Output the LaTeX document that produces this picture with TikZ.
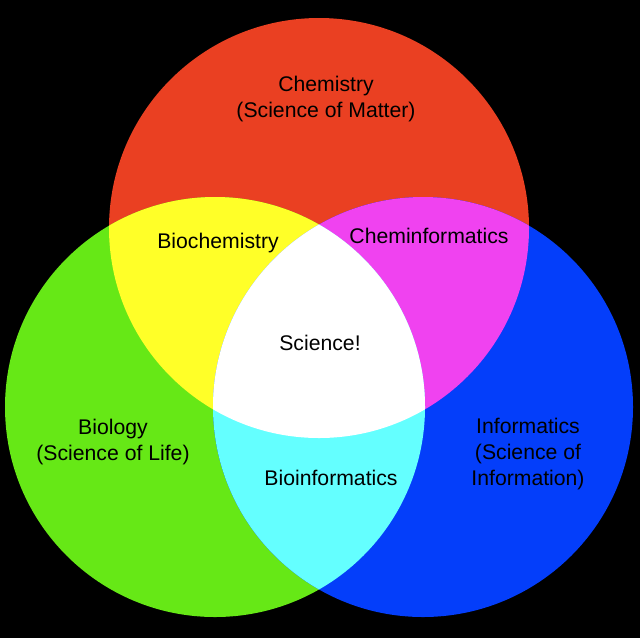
\documentclass[tikz,border=0pt]{standalone}
\usepackage{fontspec}
\setmainfont{Liberation Sans}
\definecolor{chemred}{RGB}{234,64,34}
\definecolor{biogreen}{RGB}{102,232,22}
\definecolor{infoblue}{RGB}{4,62,250}
\definecolor{mixyellow}{RGB}{255,255,40}
\definecolor{mixmagenta}{RGB}{240,66,240}
\definecolor{mixcyan}{RGB}{100,255,255}
\tikzstyle{lbl}=[align=center, font=\fontsize{10.6}{13}\selectfont, inner sep=0pt]

\begin{document}
\begin{tikzpicture}[x=0.5pt, y=-0.5pt]
    \fill[black] (0,0) rectangle (640,638);
    \useasboundingbox (0,0) rectangle (640,638);
    \coordinate (chem) at (319,228);
    \coordinate (bio) at (215,407);
    \coordinate (info) at (423,407);
    \def\rad{210}
    % base circles
    \fill[chemred] (chem) circle[radius=\rad];
    \fill[biogreen] (bio) circle[radius=\rad];
    \fill[infoblue] (info) circle[radius=\rad];
    % pairwise overlaps
    \begin{scope}
      \clip (chem) circle[radius=\rad];
      \fill[mixyellow] (bio) circle[radius=\rad];
      \fill[mixmagenta] (info) circle[radius=\rad];
    \end{scope}
    \begin{scope}
      \clip (bio) circle[radius=\rad];
      \fill[mixcyan] (info) circle[radius=\rad];
      \clip (chem) circle[radius=\rad];
      \fill[white] (info) circle[radius=\rad];
    \end{scope}
    % labels
    \node[lbl] (chemistry) at (326,99) {Chemistry\\(Science of Matter)};
    \node[lbl] (biochem) at (218,243) {Biochemistry};
    \node[lbl] (cheminf) at (429,236) {Cheminformatics};
    \node[lbl] (science) at (320,343) {Science!};
    \node[lbl] (biology) at (113,442) {Biology\\(Science of Life)};
    \node[lbl] (bioinf) at (331,478) {Bioinformatics};
    \node[lbl] (informatics) at (528,454) {Informatics\\(Science of\\Information)};
\end{tikzpicture}
\end{document}
